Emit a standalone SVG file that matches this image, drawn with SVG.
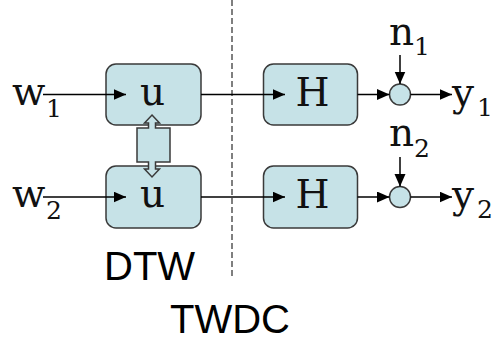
<svg xmlns="http://www.w3.org/2000/svg" width="498" height="343" viewBox="0 0 498 343">
<style>
.box{fill:#c6e2e7;stroke:#3a3a3a;stroke-width:1.5}
.ln{stroke:#000;stroke-width:1.5;fill:none}
.ser{font-family:"DejaVu Serif",serif;fill:#111}
.big{font-size:39px}
.sub{font-size:25px}
.sans{font-family:"Liberation Sans",Arial,sans-serif;font-size:40px;fill:#000}
</style>
<defs>
<marker id="ah" markerUnits="userSpaceOnUse" markerWidth="13" markerHeight="12" refX="12.5" refY="5.5" orient="auto">
<path d="M0,0 L12.5,5.5 L0,11 z" fill="#000"/>
</marker>
</defs>
<rect width="498" height="343" fill="#fff"/>
<line x1="232" y1="0" x2="232" y2="278" stroke="#555" stroke-width="1.5" stroke-dasharray="6,3"/>
<g id="u1"><rect class="box" x="106" y="64" width="95" height="61" rx="10"/></g>
<g id="u2"><rect class="box" x="106" y="166" width="95" height="62" rx="10"/></g>
<g id="H1"><rect class="box" x="263.5" y="64" width="94" height="61" rx="10"/><text class="ser big" x="312.5" y="106" text-anchor="middle">H</text></g>
<g id="H2"><rect class="box" x="263.5" y="166" width="94" height="62" rx="10"/><text class="ser big" x="312.5" y="208" text-anchor="middle">H</text></g>
<g id="s1"><circle class="box" cx="400" cy="94.5" r="10.5"/></g>
<g id="s2"><circle class="box" cx="400" cy="197" r="10.5"/></g>
<g id="dtwlink"><polygon class="box" points="152,115 159.5,123 155.5,123 155.5,128 170,128 170,162 155.5,162 155.5,169 159.5,169 152,177 144.5,169 148.5,169 148.5,162 137,162 137,128 148.5,128 148.5,123 144.5,123"/></g>
<g id="connectors">
<line class="ln" x1="43" y1="94.5" x2="126" y2="94.5" marker-end="url(#ah)"/>
<line class="ln" x1="201" y1="94.5" x2="285" y2="94.5" marker-end="url(#ah)"/>
<line class="ln" x1="357.5" y1="94.5" x2="389.5" y2="94.5" marker-end="url(#ah)"/>
<line class="ln" x1="410.5" y1="94.5" x2="452" y2="94.5" marker-end="url(#ah)"/>
<line class="ln" x1="400" y1="55" x2="400" y2="84" marker-end="url(#ah)"/>
<line class="ln" x1="43" y1="197" x2="126" y2="197" marker-end="url(#ah)"/>
<line class="ln" x1="201" y1="197" x2="285" y2="197" marker-end="url(#ah)"/>
<line class="ln" x1="357.5" y1="197" x2="389.5" y2="197" marker-end="url(#ah)"/>
<line class="ln" x1="410.5" y1="197" x2="452" y2="197" marker-end="url(#ah)"/>
<line class="ln" x1="400" y1="157" x2="400" y2="186.5" marker-end="url(#ah)"/>
</g>
<g id="labels">
<text class="ser big" x="152.5" y="105" text-anchor="middle">u</text>
<text class="ser big" x="152.5" y="207" text-anchor="middle">u</text>
<text class="ser big" x="12" y="105">w</text><text class="ser sub" x="46" y="117">1</text>
<text class="ser big" x="12" y="207">w</text><text class="ser sub" x="46" y="219">2</text>
<text class="ser big" x="389" y="45">n</text><text class="ser sub" x="414" y="55">1</text>
<text class="ser big" x="389" y="146">n</text><text class="ser sub" x="414" y="157">2</text>
<text class="ser big" x="452" y="106">y</text><text class="ser sub" x="477" y="116">1</text>
<text class="ser big" x="452" y="208">y</text><text class="ser sub" x="477" y="218">2</text>
<text class="sans" x="104" y="280">DTW</text>
<text class="sans" x="170" y="333">TWDC</text>
</g>
</svg>
